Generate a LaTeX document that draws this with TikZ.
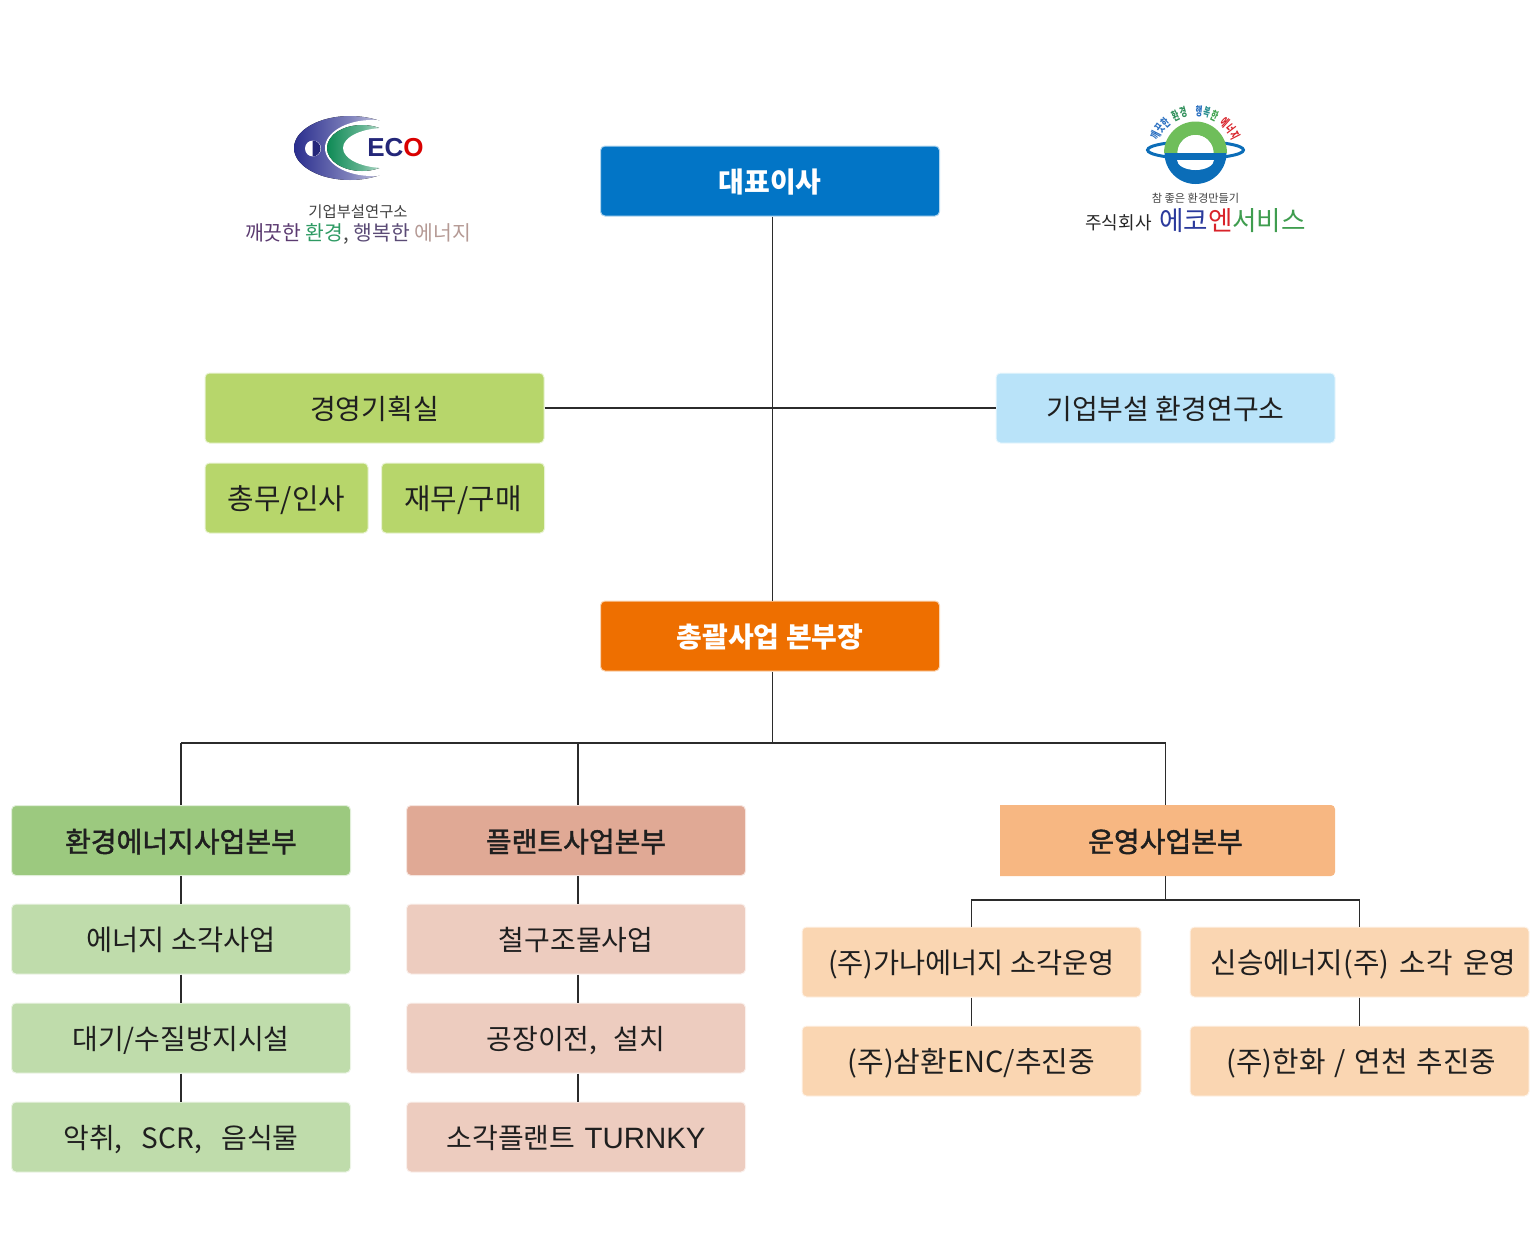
\documentclass[tikz,border=0pt]{standalone}
\usepackage{fontspec}
\setmainfont{Noto Sans CJK KR}
\newfontfamily\latinlogo{Liberation Sans}
\newfontfamily\medfont[FakeBold=1.6]{Noto Sans CJK KR}
\usetikzlibrary{positioning}
\definecolor{ceoC}{HTML}{0275C6}
\definecolor{hqC}{HTML}{EE6F00}
\definecolor{mgmtC}{HTML}{B7D66B}
\definecolor{labC}{HTML}{B9E3F9}
\definecolor{envC}{HTML}{9CC97F}
\definecolor{envL}{HTML}{BFDCAB}
\definecolor{plantC}{HTML}{E0A995}
\definecolor{plantL}{HTML}{EDCCBF}
\definecolor{opC}{HTML}{F7B782}
\definecolor{opL}{HTML}{FAD6B2}
\definecolor{lineC}{HTML}{2B2B2B}
\definecolor{ecoBlue}{HTML}{2A2E8E}
\definecolor{ecoGreen}{HTML}{0E8A55}
\definecolor{ringBlue}{HTML}{0B6DB8}
\definecolor{ringGreen}{HTML}{6FBE5A}
\newcommand\gapp[1]{\hspace{#1pt}}
\newcommand\fs[1]{\fontsize{#1}{16}\selectfont}
\tikzset{
  box/.style={draw=white!70!#1,line width=0.5pt,fill=#1,rounded corners=2.2pt,minimum width=169.5pt,minimum height=35pt,inner sep=0pt,text height=13pt,text depth=1.4pt,font=\fontsize{14}{16}\selectfont,text=black!88},
  smallbox/.style={box=#1,minimum width=81.5pt,font=\fontsize{14.4}{16}\selectfont},
  headbox/.style={box=#1,font=\medfont\fontsize{14}{16}\selectfont},
  topbox/.style={box=#1,text=white,font=\bfseries\fontsize{14}{16}\selectfont},
  link/.style={draw=lineC,line width=0.6pt},
}
\begin{document}
\begin{tikzpicture}[x=0.5pt,y=-0.5pt]
\useasboundingbox (0,0) rectangle (1540,1242);
% left logo
\fill[left color=ecoBlue,right color=white,middle color=ecoBlue!60] (350,148) ellipse [x radius=56,y radius=32];
\fill[white] (372,148) ellipse [x radius=47,y radius=28];
\fill[left color=ecoGreen,right color=white,middle color=ecoGreen!65] (362,148) ellipse [x radius=35,y radius=23];
\fill[white] (385,148) ellipse [x radius=42,y radius=20];
\fill[white] (313,148.5) circle [radius=8];
\fill[ecoBlue!85!black] (312.5,140.5) arc [start angle=-90,end angle=90,radius=8] -- cycle;
\node[font=\latinlogo\bfseries\fontsize{13}{15}\selectfont,inner sep=0pt] (ecotext) at (395.5,148) {\textcolor{ecoBlue!85!black}{EC}\textcolor{red!85!black}{O}};
\node[font=\fontsize{7.7}{9}\selectfont,text=black!75,inner sep=0pt] (ecosub) at (358,211.5) {기업부설연구소};
\node[font=\fontsize{10.2}{12}\selectfont,inner sep=0pt] (ecoslogan) at (358,234) {\textcolor[HTML]{5B3A70}{깨끗한} \textcolor[HTML]{2E9A63}{환경}\textcolor{black!70}{,} \textcolor[HTML]{5A4A75}{행복한} \textcolor[HTML]{B59A95}{에너지}};
% right logo
\draw[ringBlue,line width=1.5pt] (1195.5,150) ellipse [x radius=48,y radius=8.5];
\fill[ringGreen] (1164,153) arc [start angle=180,end angle=360,radius=31.5] -- (1227,153) -- (1213.5,153) arc [start angle=360,end angle=180,radius=18] -- cycle;
\fill[white] (1177.5,153) arc [start angle=180,end angle=360,radius=18] -- cycle;
\fill[ringBlue] (1164.5,153) arc [start angle=180,end angle=0,radius=31] -- cycle;
\fill[white] (1177,160) arc [start angle=180,end angle=0,x radius=18.5,y radius=10] -- cycle;
\foreach \ch/\ang/\col in {깨/153/2A6FC0,끗/142.5/2A6FC0,한/132/2A6FC0,환/116/2F8F5A,경/105.5/2F8F5A,행/85/2A6FC0,복/74.5/2A8F8F,한/64/3FA34D,에/48/D8232A,너/37.5/D8232A,지/27/D8232A}{
  \definecolor{tmpC}{HTML}{\col}
  \node[font=\bfseries\fontsize{6}{7}\selectfont,text=tmpC,inner sep=0pt,rotate=\ang-90] at ({1195+44.5*cos(\ang)},{155.5-44.5*sin(\ang)}) {\scalebox{0.62}[1]{\ch}};
}
\node[font=\fontsize{5.6}{7}\selectfont,text=black!75,inner sep=0pt] (ensub) at (1195.5,198) {참 좋은 환경만들기};
\node[font=\fontsize{9}{11}\selectfont,text=black!85,inner sep=0pt] (enco) at (1118.5,223) {주식회사};
\node[font=\fontsize{13.3}{15}\selectfont,inner sep=0pt] (enname) at (1232.5,221) {\textcolor[HTML]{2B3A9C}{에코}\textcolor[HTML]{D8232A}{엔}\textcolor[HTML]{3F9D4F}{서비스}};
% spine helper coordinates
\coordinate (spine) at (772.5,0);
\coordinate (busE) at (181,743);
\coordinate (busP) at (578,743);
\coordinate (busO) at (1165.5,743);
\coordinate (busS) at (772.5,743);
\coordinate (plantX) at (578,0);
\coordinate (opBus) at (1165.5,900);
\coordinate (opBusL) at (971.5,900);
\coordinate (opBusR) at (1359.5,900);
% boxes
\node[topbox=ceoC] (ceo) at (770,181) {대표이사};
\node[box=mgmtC] (mgmt) at (374.5,408) {경영기획실};
\node[box=labC] (lab) at (1165.5,408) {기업부설 환경연구소};
\node[smallbox=mgmtC] (hr) at (286.5,498) {총무/인사};
\node[smallbox=mgmtC] (fin) at (463,498) {재무/구매};
\node[topbox=hqC] (hq) at (770,636) {총괄사업 본부장};
\node[headbox=envC] (env) at (181,840.5) {환경에너지사업본부};
\node[box=envL,font=\fs{14.2}] (env1) at (181,939) {에너지 소각사업};
\node[box=envL] (env2) at (181,1038) {대기/수질방지시설};
\node[box=envL] (env3) at (181,1137) {악취,\gapp{6.5} SCR,\gapp{6.5} 음식물};
\node[headbox=plantC] (plant) at (576,840.5) {플랜트사업본부};
\node[box=plantL] (plant1) at (576,939) {철구조물사업};
\node[box=plantL] (plant2) at (576,1038) {공장이전,\gapp{5} 설치};
\node[box=plantL] (plant3) at (576,1137) {소각플랜트\gapp{1.5} {\latinlogo\fontsize{14.7}{16}\selectfont TURNKY}};
\path[fill=opC] (1000,805) -- (1331,805) arc [start angle=-90,end angle=0,radius=4] -- (1335,872) arc [start angle=0,end angle=90,radius=4] -- (1000,876) -- cycle;
\node[minimum width=167.5pt,minimum height=35.5pt,inner sep=0pt,text height=13pt,text depth=1.4pt,font=\medfont\fontsize{14}{16}\selectfont,text=black!88] (op) at (1165.5,840.5) {운영사업본부};
\node[box=opL,font=\fs{14.2}] (op1) at (971.5,962) {(주)가나에너지 소각운영};
\node[box=opL,font=\fs{14.5}] (op2) at (971.5,1061) {(주)삼환ENC/추진중};
\node[box=opL,font=\fs{14.4}] (op3) at (1359.5,962) {\hspace*{4pt}신승에너지(주)\gapp{2} 소각\gapp{2} 운영};
\node[box=opL,font=\fs{14.4}] (op4) at (1359.5,1061) {\hspace*{2pt}(주)한화\gapp{1.3} /\gapp{1.3} 연천\gapp{1.3} 추진중};
% connectors
\draw[link] (ceo.south -| spine) -- (hq.north -| spine);
\draw[link] (mgmt.east) -- (lab.west);
\draw[link] (hq.south -| spine) -- (busS);
\draw[link] (busE) -- (busO);
\draw[link] (busE) -- (env.north);
\draw[link] (busP) -- (plant.north -| plantX);
\draw[link] (busO) -- (op.north);
\draw[link] (env.south) -- (env1.north);
\draw[link] (env1.south) -- (env2.north);
\draw[link] (env2.south) -- (env3.north);
\draw[link] (plant.south -| plantX) -- (plant1.north -| plantX);
\draw[link] (plant1.south -| plantX) -- (plant2.north -| plantX);
\draw[link] (plant2.south -| plantX) -- (plant3.north -| plantX);
\draw[link] (op.south) -- (opBus);
\draw[link] (op1.north) -- (opBusL) -- (opBusR) -- (op3.north);
\draw[link] (op1.south) -- (op2.north);
\draw[link] (op3.south) -- (op4.north);
\end{tikzpicture}
\end{document}
